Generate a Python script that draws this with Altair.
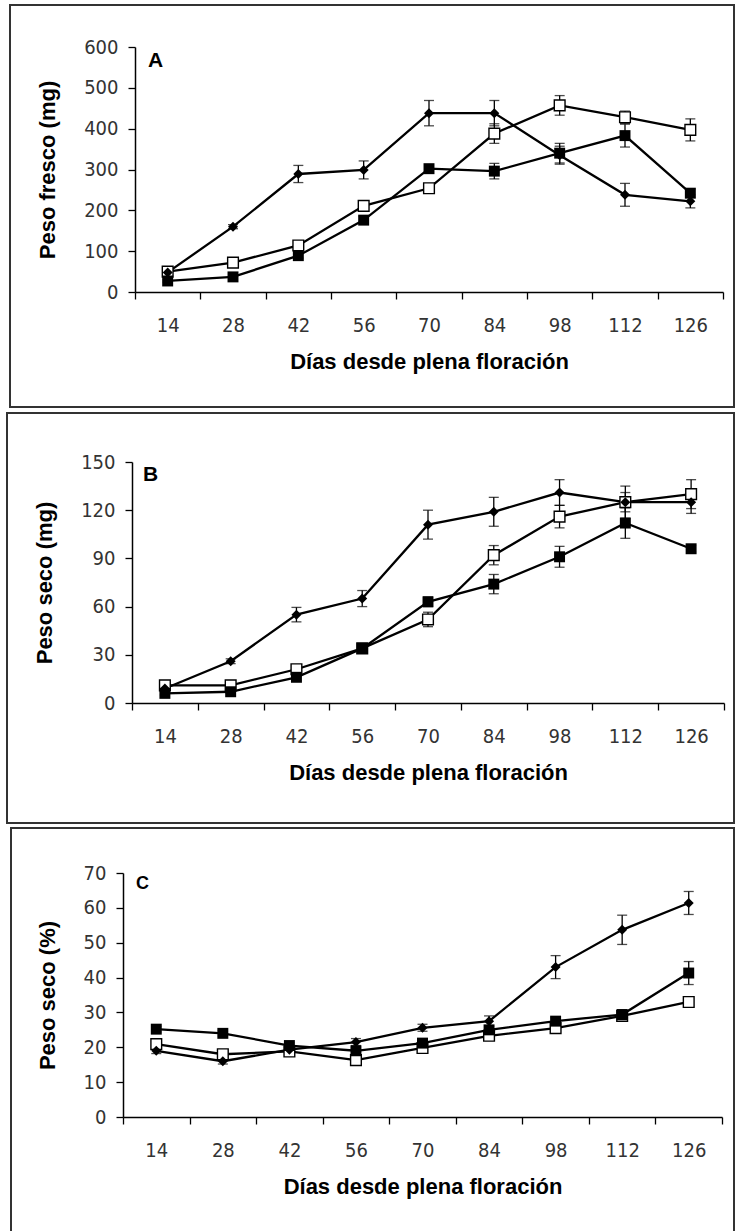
import altair as alt
import pandas as pd

days = [14, 28, 42, 56, 70, 84, 98, 112, 126]
series_names = ["diamond", "filled", "open"]

# Panel A: Peso fresco (mg)
a_diamond = [48, 160, 289, 299, 438, 438, 335, 238, 222]
a_diamond_err = [3, 5, 21, 22, 31, 31, 22, 28, 16]
a_filled = [27, 37, 89, 176, 302, 296, 340, 383, 242]
a_filled_err = [3, 4, 6, 9, 10, 19, 24, 28, 10]
a_open = [50, 72, 114, 211, 254, 388, 457, 428, 397]
a_open_err = [3, 5, 8, 12, 10, 24, 24, 15, 27]

# Panel B: Peso seco (mg)
b_diamond = [9, 26, 55, 65, 111, 119, 131, 125, 125]
b_diamond_err = [1, 1.5, 4.5, 5, 9, 9, 8, 6, 7]
b_filled = [6, 7, 16, 34, 63, 74, 91, 112, 96]
b_filled_err = [1, 1, 2, 2, 3, 6, 6.5, 9.5, 2]
b_open = [11, 11, 21, 34, 52, 92, 116, 125, 130]
b_open_err = [1, 1, 2, 2, 4.5, 6, 7, 10, 9]

# Panel C: Peso seco (%)
c_diamond = [19.0, 16.0, 19.3, 21.5, 25.6, 27.5, 43.0, 53.7, 61.4]
c_diamond_err = [0.8, 0.8, 0.8, 1.0, 1.0, 1.5, 3.3, 4.2, 3.3]
c_filled = [25.2, 24.0, 20.5, 19.0, 21.2, 25.0, 27.5, 29.4, 41.3]
c_filled_err = [0.8, 0.8, 0.8, 0.8, 0.8, 1.0, 1.0, 1.0, 3.3]
c_open = [20.9, 18.0, 18.8, 16.3, 19.8, 23.3, 25.5, 29.0, 33.0]
c_open_err = [0.6, 0.6, 0.6, 0.6, 0.6, 0.8, 0.8, 0.8, 0.8]

TICK_FONT = "Liberation Sans Narrow, Arial Narrow, DejaVu Sans Condensed, sans-serif"
TITLE_FONT = "Liberation Sans, Arial, sans-serif"
X_TITLE = "Días desde plena floración"


def make_df(vals):
    rows = []
    for name, (v, e) in zip(series_names, vals):
        for d, vv, ee in zip(days, v, e):
            rows.append({"day": d, "series": name, "value": vv,
                         "lo": vv - ee, "hi": vv + ee})
    return pd.DataFrame(rows)


def panel(vals, ymax, ystep, ytitle, letter, width, height, xshift, frame,
          letter_pos, letter_size):
    df = make_df(vals)
    tick_vals = [float(v) for v in range(0, ymax + 1, ystep)]
    xscale = alt.Scale(type="band", paddingInner=0, paddingOuter=0,
                       range=[-xshift, width - xshift])
    xaxis = alt.Axis(
        title=X_TITLE, labelAngle=0, tickBand="extent", tickSize=7,
        labelPadding=16, titlePadding=16,
    )
    yscale = alt.Scale(domain=[0, ymax], nice=False, zero=True)
    yaxis = alt.Axis(
        title=ytitle, values=tick_vals, tickCount=len(tick_vals), tickSize=7,
        labelPadding=10, titlePadding=24, grid=False, labelOverlap=False,
        labelSeparation=0, offset=xshift,
    )
    xenc = alt.X("day:O", scale=xscale, axis=xaxis)
    base = alt.Chart(df)
    rules = base.mark_rule(color="black", strokeWidth=1.3).encode(
        x=xenc, y=alt.Y("lo:Q", scale=yscale, axis=yaxis), y2="hi:Q"
    )
    caps_lo = base.mark_tick(color="black", size=10, thickness=1.3).encode(
        x=xenc, y=alt.Y("lo:Q", scale=yscale, axis=yaxis)
    )
    caps_hi = base.mark_tick(color="black", size=10, thickness=1.3).encode(
        x=xenc, y=alt.Y("hi:Q", scale=yscale, axis=yaxis)
    )
    lines = base.mark_line(color="black", strokeWidth=2.3).encode(
        x=xenc, y=alt.Y("value:Q", scale=yscale, axis=yaxis), detail="series:N"
    )
    pts_d = base.transform_filter(alt.datum.series == "diamond").mark_point(
        shape="diamond", filled=True, color="black", size=100, opacity=1
    ).encode(x=xenc, y=alt.Y("value:Q", scale=yscale, axis=yaxis))
    pts_f = base.transform_filter(alt.datum.series == "filled").mark_point(
        shape="square", filled=True, color="black", size=120, opacity=1
    ).encode(x=xenc, y=alt.Y("value:Q", scale=yscale, axis=yaxis))
    pts_o = base.transform_filter(alt.datum.series == "open").mark_point(
        shape="square", filled=True, fill="white", stroke="black", strokeWidth=1.4,
        size=115, opacity=1
    ).encode(x=xenc, y=alt.Y("value:Q", scale=yscale, axis=yaxis))
    one = pd.DataFrame({"k": [0]})
    label = alt.Chart(one).mark_text(
        text=letter, font=TITLE_FONT, fontWeight="bold", fontSize=letter_size,
        align="left", baseline="top", color="black"
    ).encode(x=alt.value(letter_pos[0]), y=alt.value(letter_pos[1]))
    box = alt.Chart(one).mark_rect(
        fillOpacity=0, stroke="#333", strokeWidth=2
    ).encode(
        x=alt.value(frame[0]), x2=alt.value(frame[1]),
        y=alt.value(frame[2]), y2=alt.value(frame[3]),
    )
    return alt.layer(box, rules, caps_lo, caps_hi, lines, pts_o, pts_f, pts_d, label).properties(
        width=width - xshift, height=height
    )


pA = panel([(a_diamond, a_diamond_err), (a_filled, a_filled_err), (a_open, a_open_err)],
           600, 100, "Peso fresco (mg)", "A", 588, 245, 0,
           (-125, 599, -42, 360), (13, 3), 21)
pB = panel([(b_diamond, b_diamond_err), (b_filled, b_filled_err), (b_open, b_open_err)],
           150, 30, "Peso seco (mg)", "B", 592, 241, 3,
           (-128, 599, -49, 361), (8, 2), 21)
pC = panel([(c_diamond, c_diamond_err), (c_filled, c_filled_err), (c_open, c_open_err)],
           70, 10, "Peso seco (%)", "C", 599, 244, 12,
           (-124, 599, -45, 359), (1, 2), 18)

chart = alt.vconcat(pA, pB, pC, spacing=170, bounds="flush").properties(
    padding={"left": 6, "top": 4, "right": 0, "bottom": 0}
).configure_view(stroke=None).configure_axis(
    domainColor="black", domainWidth=1.5, tickColor="black", tickWidth=1.3,
    labelFont=TICK_FONT, labelFontSize=20, labelColor="#333",
    titleFont=TITLE_FONT, titleFontSize=22, titleFontWeight="bold", titleColor="black",
).configure_axisY(labelOverlap=False)

chart.save("out.html", embed_options={"renderer": "svg", "actions": False})
